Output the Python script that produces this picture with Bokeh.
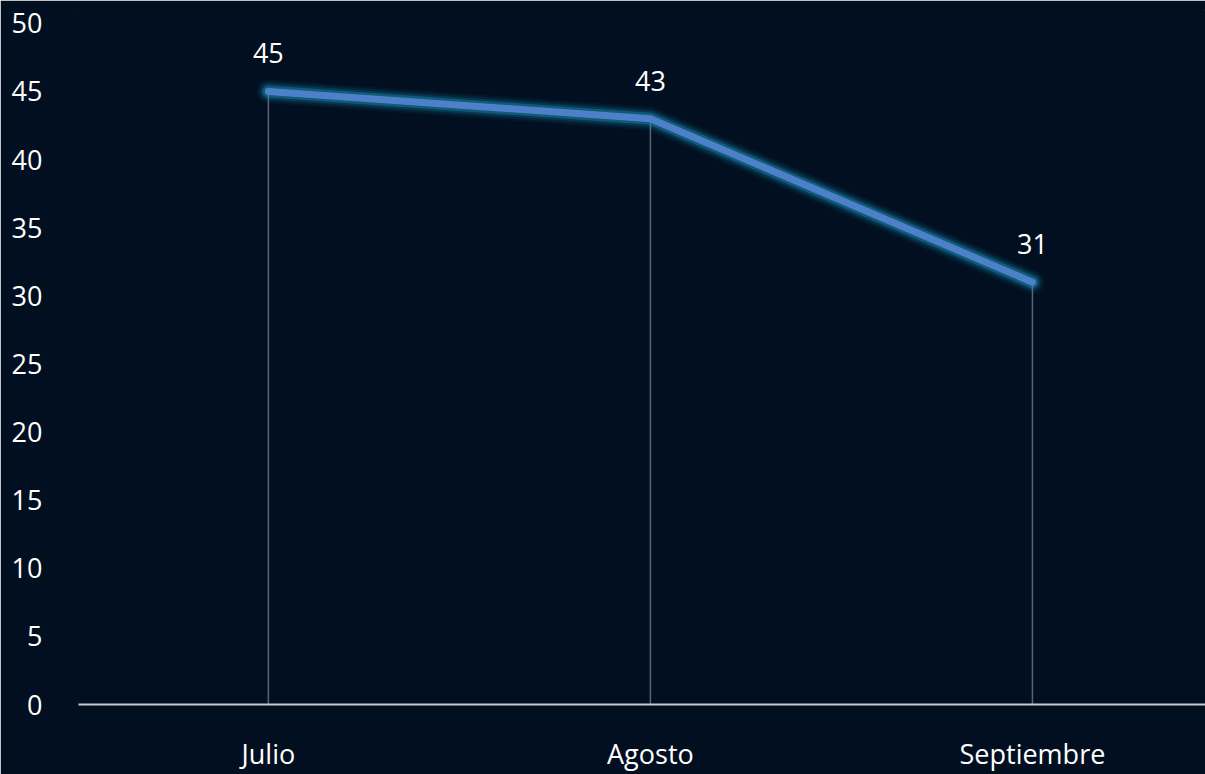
from bokeh.plotting import figure
from bokeh.models import Range1d, FixedTicker, ColumnDataSource
from bokeh.core.properties import value
from bokeh.embed import file_html
from bokeh.resources import INLINE

months = ["Julio", "Agosto", "Septiembre"]
values = [45, 43, 31]
y_ticks = [0, 5, 10, 15, 20, 25, 30, 35, 40, 45, 50]

BG = "#020f21"
FONT = "Open Sans"
FS = "27px"
xs = list(range(len(months)))

src = ColumnDataSource(dict(x=xs, y=values, lbl=[str(v) for v in values],
                            zero=[0] * len(values)))

p = figure(width=1205, height=774, output_backend="svg", toolbar_location=None,
           x_range=Range1d(-0.497, 2.453), y_range=Range1d(0, 50.94),
           background_fill_color=BG, border_fill_color=BG,
           min_border_left=78, min_border_right=0, min_border_top=10, min_border_bottom=59)
p.outline_line_color = BG
p.outline_line_width = 1
p.grid.grid_line_color = None

# drop lines
p.segment(x0="x", y0="zero", x1="x", y1="y", source=src, line_color="#5b6474", line_width=1.5)

# glow
for w, a in [(24, 0.06), (20, 0.1), (16, 0.18), (12, 0.4)]:
    p.line("x", "y", source=src, line_color="#1992b8", line_width=w, line_alpha=a,
           line_cap="round", line_join="round")
p.line("x", "y", source=src, line_color="#4d80c8", line_width=7,
       line_cap="round", line_join="round")

p.text("x", "y", text="lbl", source=src, y_offset=-38, text_align="center",
       text_baseline="middle", text_color="white", text_font=value(FONT),
       text_font_size=FS)

p.xaxis.ticker = FixedTicker(ticks=xs)
p.xaxis.major_label_overrides = {i: m for i, m in enumerate(months)}
p.yaxis.ticker = FixedTicker(ticks=y_ticks)
for ax in (p.xaxis, p.yaxis):
    ax.major_tick_line_color = None
    ax.minor_tick_line_color = None
    ax.major_label_text_color = "white"
    ax.major_label_text_font = FONT
    ax.major_label_text_font_size = FS
p.yaxis.axis_line_color = None
p.yaxis.major_label_standoff = 30
p.xaxis.axis_line_color = "#c9cbd0"
p.xaxis.axis_line_width = 2
p.xaxis.major_label_standoff = 24

open("out.html", "w").write(file_html(p, INLINE))
